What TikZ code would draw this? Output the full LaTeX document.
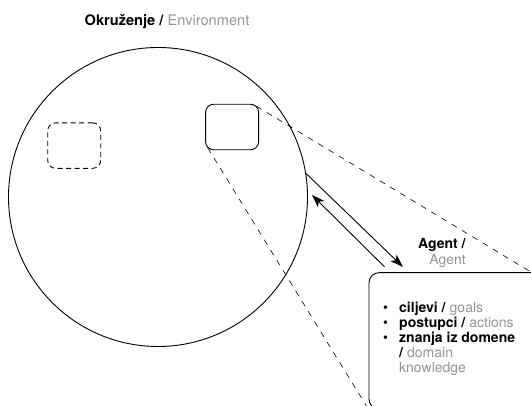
\documentclass[tikz,border=0pt]{standalone}
\usepackage{fontspec}
\setmainfont{TeX Gyre Heros}
\usepackage{xcolor}
\usepackage{tikz}
\usetikzlibrary{shapes,arrows.meta,positioning,calc}
\definecolor{engray}{gray}{0.58}
\newcommand{\en}[1]{\textcolor{engray}{#1}}
\newcommand{\itembullet}{\makebox[16.5pt][l]{\hspace{0.5pt}\textbullet}}
\newcommand{\itemskip}{\hspace*{16.5pt}}

\begin{document}
\begin{tikzpicture}[
    x=1pt, y=1pt,
    every node/.style={font=\fontsize{14}{15.5}\selectfont, inner sep=0pt},
    envcircle/.style={circle, draw, line width=0.9pt, minimum size=299pt},
    objbox/.style={rectangle, draw, line width=0.9pt, rounded corners=8pt, minimum width=53pt, minimum height=45.5pt},
    agentbox/.style={rectangle, draw, line width=0.9pt, rounded corners=10pt, minimum width=176pt, minimum height=136.3pt},
    zoomline/.style={dash pattern=on 6pt off 6pt, line width=0.6pt},
    arrow/.style={-{Stealth[length=13pt,width=9pt,inset=3.5pt]}, line width=0.9pt}
]
    \useasboundingbox (0,0) rectangle (531,406);
    % Nodes
    \node[envcircle] (env) at (158,209) {};
    \node[anchor=base, font=\fontsize{14.6}{16}\selectfont] (title) at (167,380.3) {\textbf{Okruženje /} \en{Environment}};
    \node[objbox, dash pattern=on 5pt off 3.5pt] (other) at (74.2,260.4) {};
    \node[objbox] (agentsmall) at (232.1,279) {};
    \node[agentbox] (agent) at (457,65.15) {};
    \node[anchor=north east, align=right] (agentlabel) at (466,167.5) {\textbf{Agent /}\\ \en{Agent}};
    \node[anchor=north west, align=left, font=\fontsize{14}{14.9}\selectfont] (knowledge) at (382.5,104) {%
        \itembullet\textbf{ciljevi /} \en{goals}\\
        \itembullet\textbf{postupci /} \en{actions}\\
        \itembullet\textbf{znanja iz domene}\\
        \itemskip\textbf{/} \en{domain}\\
        \itemskip\en{knowledge}};

    % Arrows
    \coordinate (agentin) at ($(agent.north west)+(34.3,5.4)$);
    \coordinate (agentout) at ($(agent.north west)+(16,5.4)$);
    \coordinate (envin) at ($(env.east)+(4,2)$);
    \draw[arrow] (env.9) -- (agentin);
    \draw[arrow] (agentout) -- (envin);

    % Zoom lines
    \draw[zoomline] ($(agentsmall.north east)+(-2.5,-2.5)$) -- ($(agent.north west)!0.92!(agent.north east)$);
    \draw[zoomline] ($(agentsmall.south west)+(2.5,2.5)$) -- (agent.south west);
\end{tikzpicture}
\end{document}
